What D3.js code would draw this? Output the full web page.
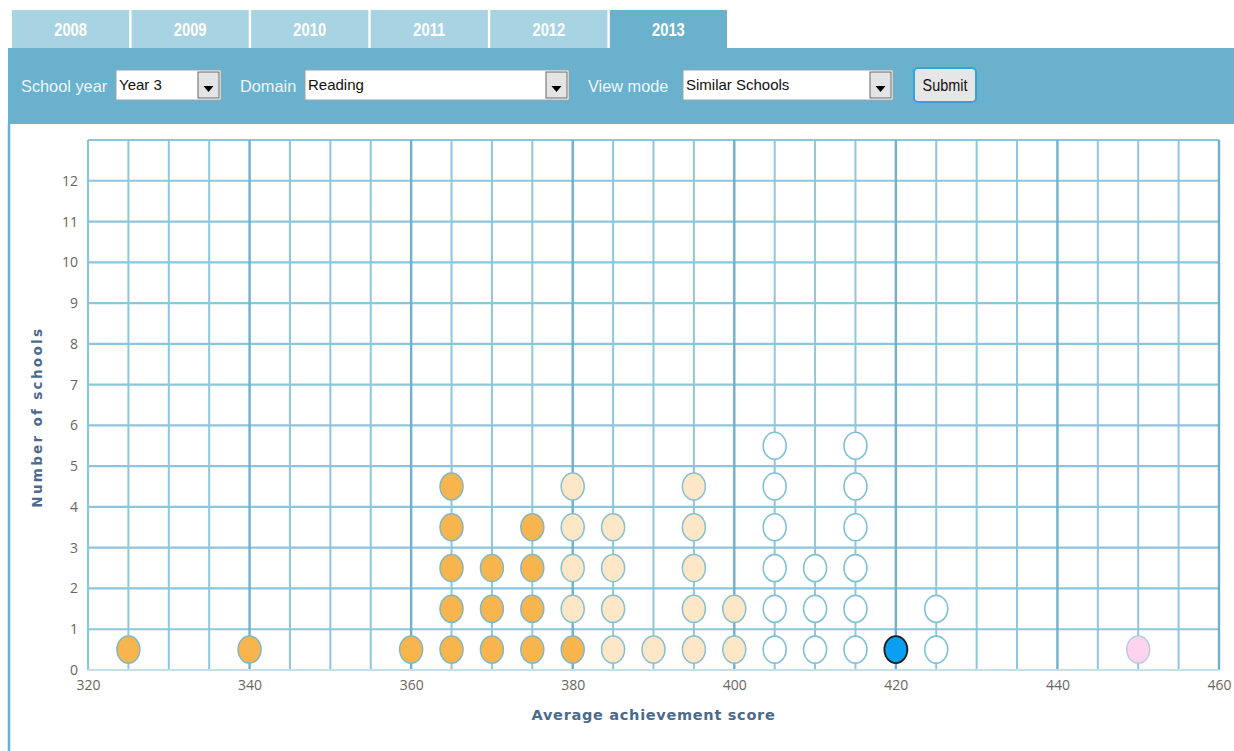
<!DOCTYPE html>
<html>
<head>
<meta charset="utf-8" />
<title>Similar schools - average achievement score</title>
<style>
  body { margin: 0; background: #fff; }
  svg { display: block; }
  .tab text { font-family: "Liberation Sans", sans-serif; font-weight: bold; font-size: 18px; fill: #fff; }
  .ctl-label { font-family: "Liberation Sans", sans-serif; font-size: 17px; fill: #eef6f9; }
  .ctl-value { font-family: "Liberation Sans", sans-serif; font-size: 15px; fill: #111; }
  .tick text { font-family: "Open Sans", sans-serif; font-size: 14px; fill: #6a6460; }
  .axis-title { font-family: "DejaVu Sans", sans-serif; font-weight: bold; font-size: 14.5px; fill: #4b6a8c; }
</style>
</head>
<body>
<svg id="chart" width="1234" height="751"></svg>
<script src="https://d3js.org/d3.v7.min.js"></script>
<script>
// tabs
var years = ["2008", "2009", "2010", "2011", "2012", "2013"];
var activeYear = "2013";

// dropdowns
var controls = [
  {label: "School year", value: "Year 3"},
  {label: "Domain", value: "Reading"},
  {label: "View mode", value: "Similar Schools"}
];

// scores (every 5 points) and how many schools sit on each, by band
var scores       = [325, 340, 360, 365, 370, 375, 380, 385, 390, 395, 400, 405, 410, 415, 420, 425, 450];
var lowerCounts  = [  1,   1,   1,   5,   3,   4,   1,   0,   0,   0,   0,   0,   0,   0,   0,   0,   0];
var middleCounts = [  0,   0,   0,   0,   0,   0,   4,   4,   1,   5,   2,   0,   0,   0,   0,   0,   0];
var upperCounts  = [  0,   0,   0,   0,   0,   0,   0,   0,   0,   0,   0,   6,   3,   6,   0,   2,   0];
var thisSchool   = 420;
var otherSchool  = 450;

var xTicks = d3.range(320, 461, 20);
var yTicks = d3.range(0, 13);

var svg = d3.select("#chart");
var blue = "#6ab1cd";

// ---- header: tabs + control bar
var tabX = d3.scaleBand().domain(years).range([12, 727]).paddingInner(0.02);
var tabs = svg.selectAll("g.tab").data(years).enter().append("g").attr("class", "tab");
tabs.append("rect")
  .attr("x", function(d){ return tabX(d); })
  .attr("y", 10)
  .attr("width", tabX.bandwidth())
  .attr("height", 40)
  .attr("fill", function(d){ return d == activeYear ? blue : "#a7d3e3"; });
// narrow bold look of the original tabs
tabs.append("text")
  .attr("transform", function(d){ return "translate(" + (tabX(d) + tabX.bandwidth() / 2) + ",36) scale(0.82,1)"; })
  .attr("text-anchor", "middle")
  .text(function(d){ return d; });

svg.append("rect").attr("x", 8).attr("y", 48).attr("width", 1226).attr("height", 76).attr("fill", blue);
svg.append("rect").attr("x", 8).attr("y", 124).attr("width", 1226).attr("height", 627).attr("fill", "#fff");
svg.append("line").attr("x1", 9).attr("x2", 9).attr("y1", 124).attr("y2", 751)
  .attr("stroke", blue).attr("stroke-width", 2.5);

var ctlPos = [{lx: 21, bx: 116, bw: 105}, {lx: 240, bx: 305, bw: 264}, {lx: 588, bx: 683, bw: 210}];
controls.forEach(function(c, i){
  var p = ctlPos[i];
  svg.append("text").attr("class", "ctl-label")
    .attr("transform", "translate(" + p.lx + ",92) scale(0.96,1)").text(c.label);
  svg.append("rect").attr("x", p.bx).attr("y", 70).attr("width", p.bw).attr("height", 30)
    .attr("fill", "#fff").attr("stroke", "#9aa3a8");
  svg.append("text").attr("class", "ctl-value").attr("x", p.bx + 3).attr("y", 90).text(c.value);
  svg.append("rect").attr("x", p.bx + p.bw - 23).attr("y", 72).attr("width", 21).attr("height", 26)
    .attr("fill", "#e4e4e4").attr("stroke", "#666");
  var ax = p.bx + p.bw - 12.5;
  svg.append("path").attr("d", "M" + (ax - 5) + ",86 L" + (ax + 5) + ",86 L" + ax + ",92 Z").attr("fill", "#000");
});
svg.append("rect").attr("x", 914).attr("y", 68).attr("width", 62).attr("height", 34).attr("rx", 4)
  .attr("fill", "#e6e6e6").attr("stroke", "#3aa0d8").attr("stroke-width", 2);
svg.append("text").attr("class", "ctl-value").attr("text-anchor", "middle")
  .attr("transform", "translate(945,91) scale(0.9,1)")
  .style("font-size", "16px")
  .text("Submit");

// ---- plot
var x = d3.scaleLinear().domain([320, 460]).range([88, 1219]);
var y = d3.scaleLinear().domain([0, 13]).range([670, 140]);

var grid = svg.append("g");
grid.selectAll("line.h").data(d3.range(1, 14)).enter().append("line")
  .attr("x1", x(320)).attr("x2", x(460))
  .attr("y1", function(d){ return y(d); }).attr("y2", function(d){ return y(d); })
  .attr("stroke", "#8cc6db").attr("stroke-width", 2.2);
grid.selectAll("line.v").data(d3.range(325, 461, 5)).enter().append("line")
  .attr("x1", function(d){ return x(d); }).attr("x2", function(d){ return x(d); })
  .attr("y1", y(13)).attr("y2", y(0))
  .attr("stroke", function(d){ return d % 20 == 0 ? "#6fb0cc" : "#8ec6dc"; })
  .attr("stroke-width", function(d){ return d % 20 == 0 ? 2.4 : 2; });
grid.append("line").attr("x1", x(320)).attr("x2", x(320)).attr("y1", y(13)).attr("y2", y(0))
  .attr("stroke", "#8cc6db").attr("stroke-width", 2.2);
grid.append("line").attr("x1", x(320)).attr("x2", x(460)).attr("y1", y(0)).attr("y2", y(0))
  .attr("stroke", "#c9dde8").attr("stroke-width", 2);

var xAxis = svg.append("g").attr("transform", "translate(0," + y(0) + ")")
  .call(d3.axisBottom(x).tickValues(xTicks).tickSize(0).tickPadding(10));
xAxis.select(".domain").remove();

var yAxis = svg.append("g").attr("transform", "translate(" + (x(320) - 10) + ",0)")
  .call(d3.axisLeft(y).tickValues(yTicks).tickSize(0).tickPadding(0));
yAxis.select(".domain").remove();
yAxis.selectAll(".tick text").attr("dy", function(d){ return d == 0 ? "0.3em" : "0.32em"; });

svg.append("text").attr("class", "axis-title")
  .attr("x", (x(320) + x(460)) / 2).attr("y", 720).attr("text-anchor", "middle")
  .style("letter-spacing", "0.7px")
  .text("Average achievement score");
svg.append("text").attr("class", "axis-title")
  .attr("transform", "translate(42," + y(6.2) + ") rotate(-90)")
  .attr("text-anchor", "middle").style("font-size", "13.5px").style("letter-spacing", "2.3px")
  .text("Number of schools");

// ---- dots, stacked per score
var dots = [];
scores.forEach(function(s, i){
  var n = 0;
  function add(count, fill, stroke, sw){
    for (var k = 0; k < count; k++) { dots.push({score: s, level: n + 0.5, fill: fill, stroke: stroke, sw: sw}); n++; }
  }
  add(lowerCounts[i], "#f8b54e", "#7fb8c4", 1.5);
  add(middleCounts[i], "#fde7c6", "#86bfd0", 1.5);
  add(upperCounts[i], "#ffffff", "#7fc0d6", 1.6);
  if (s == thisSchool) add(1, "#0a9ff0", "#1b1b1b", 1.8);
  if (s == otherSchool) add(1, "#fdd3ee", "#b6cde0", 1.5);
});

svg.append("g").selectAll("ellipse").data(dots).enter().append("ellipse")
  .attr("cx", function(d){ return x(d.score); })
  .attr("cy", function(d){ return y(d.level); })
  .attr("rx", 11.5)
  .attr("ry", 13.5)
  .attr("fill", function(d){ return d.fill; })
  .attr("stroke", function(d){ return d.stroke; })
  .attr("stroke-width", function(d){ return d.sw; });
</script>
</body>
</html>
